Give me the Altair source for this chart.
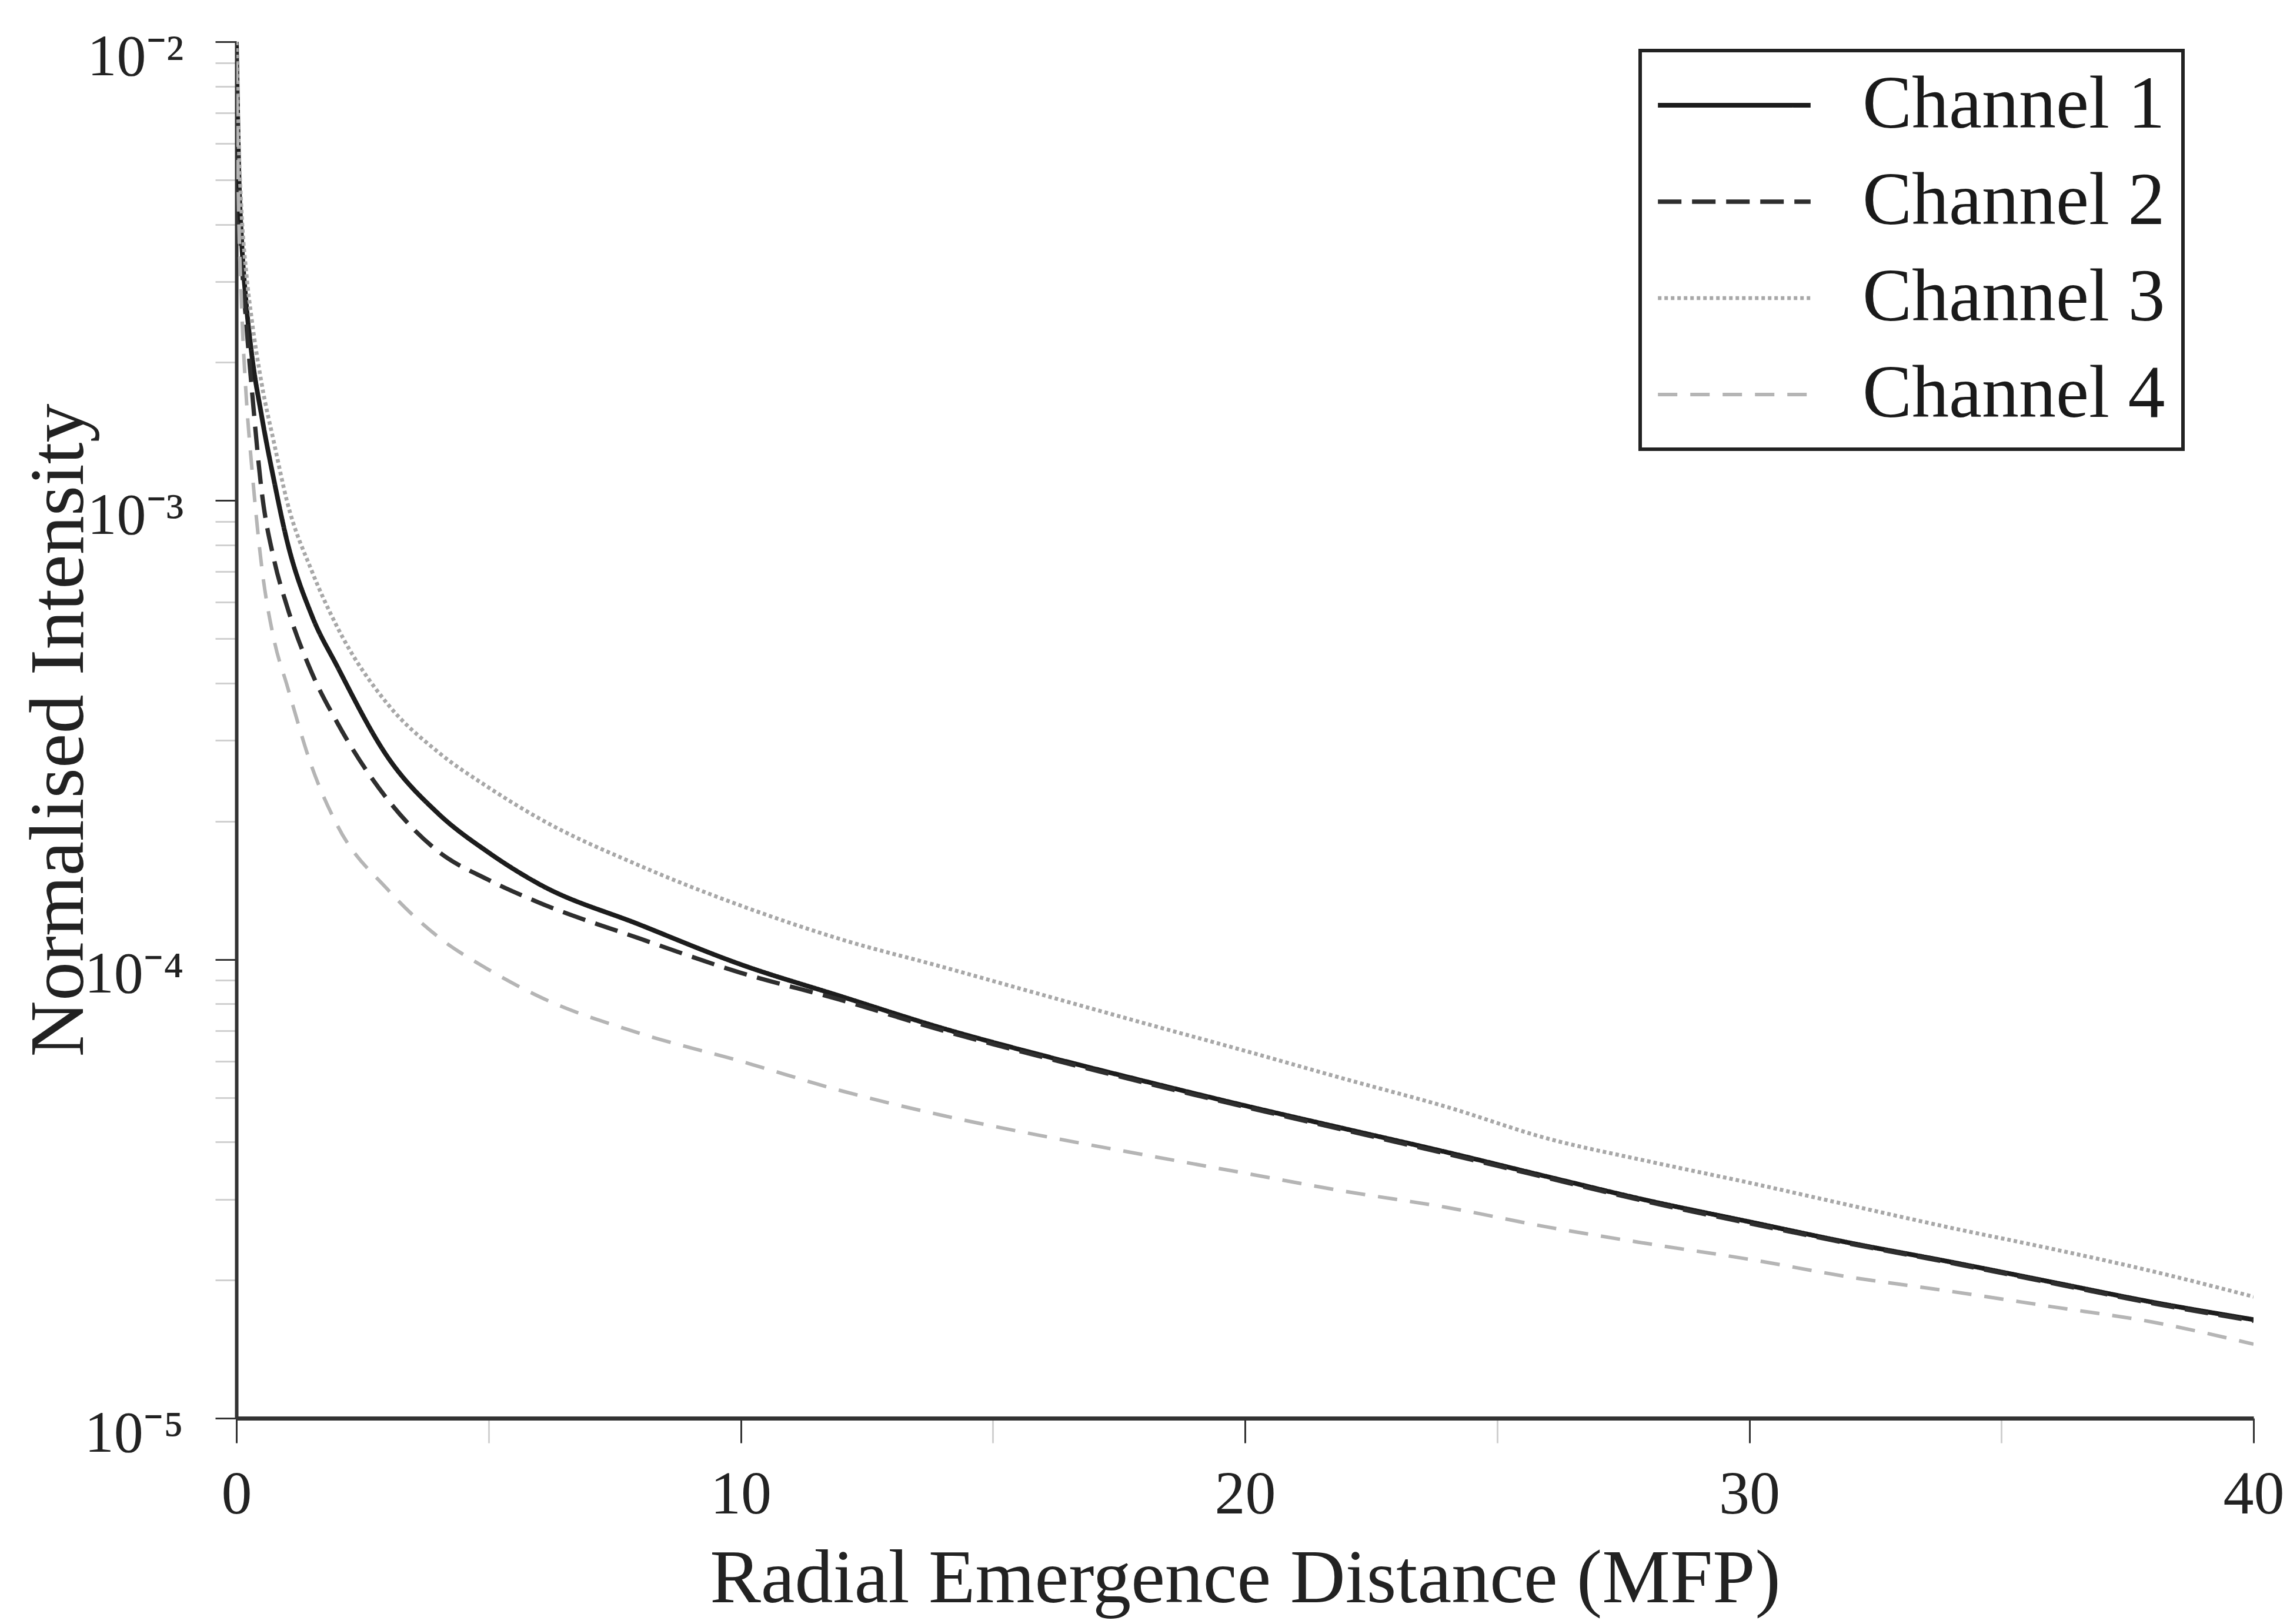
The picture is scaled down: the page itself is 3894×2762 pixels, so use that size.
import math
import altair as alt
import pandas as pd

# ---- data ----
x_mfp = [0, 0.05, 0.1, 0.2, 0.3, 0.5, 0.75, 1, 1.5, 2, 3, 4, 5, 6, 8, 10,
         12, 14, 16, 18, 20, 22, 24, 26, 28, 30, 32, 34, 36, 38, 40]
channel_1 = [1.0e-2, 5.1e-3, 3.75e-3, 2.65e-3, 2.1e-3, 1.53e-3, 1.1e-3, 8.2e-4,
             5.6e-4, 4.35e-4, 2.76e-4, 2.08e-4, 1.71e-4, 1.46e-4, 1.19e-4, 9.75e-5,
             8.3e-5, 7.08e-5, 6.17e-5, 5.43e-5, 4.8e-5, 4.27e-5, 3.8e-5, 3.36e-5,
             2.98e-5, 2.68e-5, 2.41e-5, 2.19e-5, 1.98e-5, 1.79e-5, 1.64e-5]
channel_2 = [9.5e-3, 4.8e-3, 3.45e-3, 2.4e-3, 1.78e-3, 1.05e-3, 7.4e-4, 5.9e-4,
             4.2e-4, 3.28e-4, 2.23e-4, 1.72e-4, 1.49e-4, 1.33e-4, 1.11e-4, 9.35e-5,
             8.15e-5, 7.0e-5, 6.12e-5, 5.39e-5, 4.77e-5, 4.24e-5, 3.77e-5, 3.34e-5,
             2.96e-5, 2.66e-5, 2.40e-5, 2.18e-5, 1.97e-5, 1.78e-5, 1.63e-5]
channel_3 = [1.0e-2, 5.8e-3, 4.3e-3, 3.1e-3, 2.5e-3, 1.8e-3, 1.33e-3, 1.0e-3,
             7.0e-4, 5.3e-4, 3.6e-4, 2.83e-4, 2.37e-4, 2.03e-4, 1.6e-4, 1.31e-4,
             1.105e-4, 9.63e-5, 8.36e-5, 7.26e-5, 6.32e-5, 5.48e-5, 4.77e-5, 4.07e-5,
             3.63e-5, 3.26e-5, 2.91e-5, 2.60e-5, 2.34e-5, 2.09e-5, 1.84e-5]
channel_4 = [9.0e-3, 4.0e-3, 2.7e-3, 1.65e-3, 1.2e-3, 7.2e-4, 4.95e-4, 3.97e-4,
             2.62e-4, 1.96e-4, 1.42e-4, 1.12e-4, 9.5e-5, 8.3e-5, 6.9e-5, 6.0e-5,
             5.17e-5, 4.57e-5, 4.12e-5, 3.75e-5, 3.42e-5, 3.12e-5, 2.88e-5, 2.61e-5,
             2.40e-5, 2.22e-5, 2.03e-5, 1.89e-5, 1.75e-5, 1.62e-5, 1.45e-5]

channels = ["Channel 1", "Channel 2", "Channel 3", "Channel 4"]
series = [channel_1, channel_2, channel_3, channel_4]

x_ticks = [0, 5, 10, 15, 20, 25, 30, 35, 40]
y_decades = [1e-5, 1e-4, 1e-3, 1e-2]
y_decade_labels = ["10\u207b\u2075", "10\u207b\u2074", "10\u207b\u00b3", "10\u207b\u00b2"]

# ---- styles ----
colors = ["#1c1c1c", "#2e2e2e", "#a8a8a8", "#b5b5b5"]
dashes = [[1, 0], [40, 18], [6, 5], [33, 22]]
widths = [8, 6, 3, 4]
FONT = "Liberation Serif"

rows = []
for name, vals in zip(channels, series):
    for xv, yv in zip(x_mfp, vals):
        rows.append({"x": xv, "v": yv, "channel": name})
df = pd.DataFrame(rows)

y_tick_values = [m * d for d in y_decades[:-1] for m in range(1, 10)] + [y_decades[-1]]

exp_expr = "round(log(datum.value)/LN10)"
label_parts = ""
for d, lab in zip(y_decades, y_decade_labels):
    e = round(math.log10(d))
    label_parts += f"{exp_expr} == {e} ? '{lab}' : "
y_label_expr = f"abs(log(datum.value)/LN10 - {exp_expr}) < 0.001 ? ({label_parts}'') : ''"
is_minor_y = f"abs(log(datum.value)/LN10 - {exp_expr}) > 0.001"

legend = alt.Legend(
    title=None, orient="none", legendX=2387, legendY=15,
    symbolType="M-2.2,0H2.2", symbolSize=13924,
    labelFont=FONT, labelFontSize=126, labelColor="#1a1a1a", labelLimit=2000,
    padding=30, rowPadding=38, strokeColor="#222222",
    symbolOffset=67, labelOffset=155,
)

chart = alt.Chart(df).mark_line(clip=True, interpolate="monotone").encode(
    x=alt.X("x:Q", title="Radial Emergence Distance (MFP)",
            scale=alt.Scale(domain=[0, 40], nice=False, zero=False),
            axis=alt.Axis(values=x_ticks,
                          labelExpr="datum.value % 10 == 0 ? datum.label : ''",
                          labelFont=FONT, labelFontSize=104, labelColor="#222222",
                          labelFlush=False, labelOverlap=False,
                          labelBaseline="alphabetic", labelPadding=119,
                          tickSize=42, tickWidth=3,
                          tickColor={"condition": {"test": "datum.value % 10 != 0", "value": "#d0d0d0"}, "value": "#333333"},
                          domainColor="#333333", domainWidth=7, grid=False,
                          titleFont=FONT, titleFontSize=130, titleFontWeight="normal",
                          titleColor="#222222", titleBaseline="alphabetic", titleY=312)),
    y=alt.Y("v:Q", title="Normalised Intensity",
            scale=alt.Scale(type="log", domain=[1e-5, 1e-2], nice=False),
            axis=alt.Axis(values=y_tick_values, labelExpr=y_label_expr,
                          labelFont=FONT, labelFontSize=100, labelColor="#222222",
                          labelBaseline="alphabetic", labelOffset=56, labelPadding=54,
                          labelFlush=False, labelOverlap=False,
                          tickSize=36, tickWidth=3,
                          tickColor={"condition": {"test": is_minor_y, "value": "#d0d0d0"}, "value": "#333333"},
                          domainColor="#333333", domainWidth=6, grid=False,
                          titleFont=FONT, titleFontSize=132, titleFontWeight="normal",
                          titleColor="#222222", titleX=-302, titleBaseline="middle")),
    color=alt.Color("channel:N", scale=alt.Scale(domain=channels, range=colors), legend=legend),
    strokeDash=alt.StrokeDash("channel:N", scale=alt.Scale(domain=channels, range=dashes), legend=legend),
    strokeWidth=alt.StrokeWidth("channel:N", scale=alt.Scale(domain=channels, range=widths), legend=legend),
).properties(
    width=3430, height=2341,
    padding={"left": 402, "top": 71, "right": 62, "bottom": 350},
    autosize=alt.AutoSizeParams(type="none"),
    background="white",
).configure_view(stroke=None).configure_legend(strokeWidth=6)

chart.save("out.html", embed_options={"renderer": "svg", "actions": False})
